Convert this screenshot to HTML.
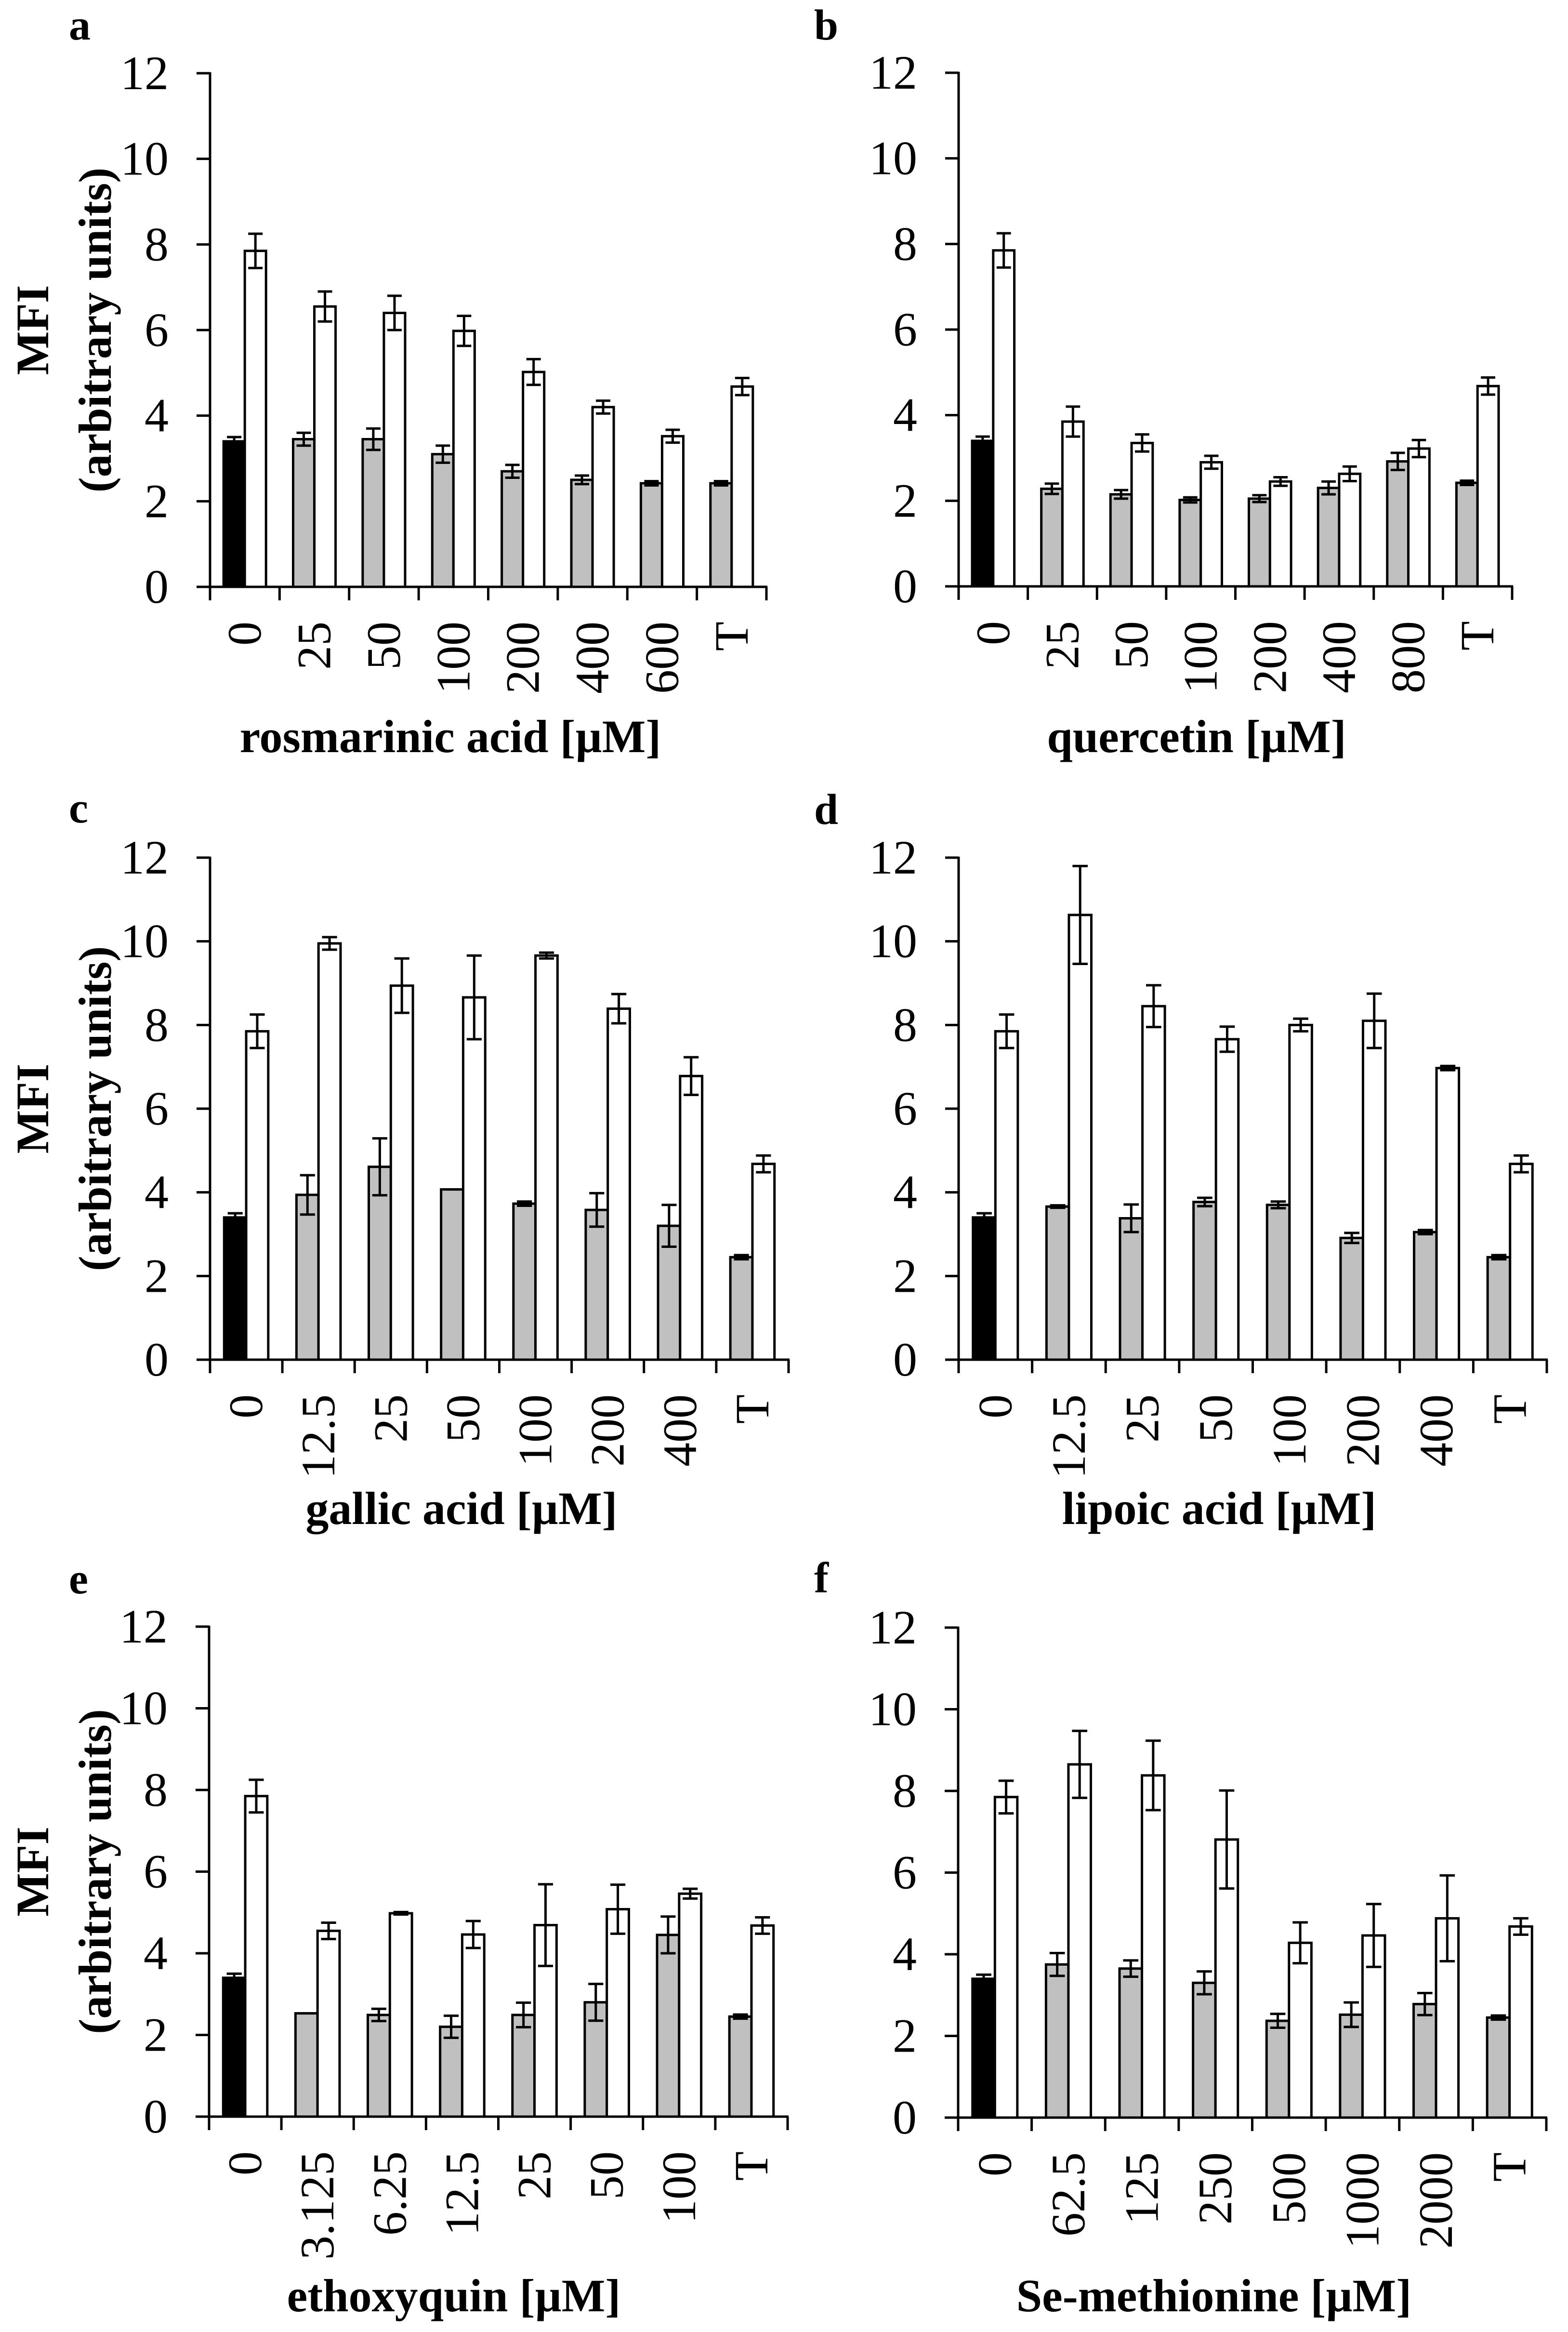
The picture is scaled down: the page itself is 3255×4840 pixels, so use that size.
<!DOCTYPE html>
<html><head><meta charset="utf-8"><style>html,body{margin:0;padding:0;background:#fff}svg{display:block}</style></head>
<body>
<svg id="fig" xmlns="http://www.w3.org/2000/svg" width="3255" height="4840" viewBox="0 0 3255 4840" font-family="Liberation Serif, serif"></svg>
<script>
// ---- data ----
const catsA = ["0","25","50","100","200","400","600","T"];
const grayA = [3.4,3.45,3.45,3.1,2.7,2.5,2.42,2.42];
const grayErrA = [0.1,0.15,0.25,0.2,0.15,0.1,0.05,0.05];
const whiteA = [7.85,6.55,6.4,5.98,5.02,4.2,3.52,4.68];
const whiteErrA = [0.4,0.35,0.4,0.35,0.3,0.15,0.15,0.2];

const catsB = ["0","25","50","100","200","400","800","T"];
const grayB = [3.4,2.28,2.15,2.02,2.05,2.3,2.92,2.42];
const grayErrB = [0.1,0.12,0.1,0.06,0.08,0.15,0.2,0.05];
const whiteB = [7.85,3.85,3.35,2.9,2.45,2.63,3.22,4.68];
const whiteErrB = [0.4,0.35,0.2,0.15,0.1,0.17,0.2,0.2];

const catsC = ["0","12.5","25","50","100","200","400","T"];
const grayC = [3.4,3.94,4.61,4.07,3.73,3.58,3.2,2.45];
const grayErrC = [0.1,0.47,0.68,0.0,0.05,0.4,0.5,0.05];
const whiteC = [7.85,9.95,8.94,8.66,9.66,8.39,6.78,4.68];
const whiteErrC = [0.4,0.15,0.65,1.0,0.07,0.35,0.45,0.2];

const catsD = ["0","12.5","25","50","100","200","400","T"];
const grayD = [3.4,3.66,3.38,3.77,3.7,2.91,3.05,2.45];
const grayErrD = [0.1,0.03,0.33,0.1,0.08,0.12,0.05,0.05];
const whiteD = [7.85,10.63,8.45,7.66,8.0,8.1,6.97,4.68];
const whiteErrD = [0.4,1.17,0.5,0.3,0.15,0.65,0.05,0.2];

const catsE = ["0","3.125","6.25","12.5","25","50","100","T"];
const grayE = [3.4,2.53,2.49,2.2,2.49,2.8,4.45,2.45];
const grayErrE = [0.1,0.0,0.15,0.27,0.3,0.45,0.45,0.05];
const whiteE = [7.85,4.55,4.98,4.46,4.69,5.08,5.46,4.68];
const whiteErrE = [0.4,0.2,0.03,0.33,1.0,0.6,0.12,0.2];

const catsF = ["0","62.5","125","250","500","1000","2000","T"];
const grayF = [3.4,3.75,3.65,3.3,2.37,2.52,2.78,2.45];
const grayErrF = [0.1,0.28,0.2,0.28,0.17,0.3,0.27,0.05];
const whiteF = [7.85,8.65,8.38,6.81,4.28,4.46,4.88,4.68];
const whiteErrF = [0.4,0.82,0.85,1.2,0.5,0.77,1.05,0.2];

const yTicks = [0,2,4,6,8,10,12];

const NS = "http://www.w3.org/2000/svg";
const svg = document.getElementById("fig");
function mk(tag, attrs, parent, txt){
  const e = document.createElementNS(NS, tag);
  for (const k in attrs) e.setAttribute(k, attrs[k]);
  if (txt !== undefined) e.textContent = txt;
  (parent||svg).appendChild(e);
  return e;
}

const panels = [
  {id:"a", cats:catsA, g:grayA, ge:grayErrA, w:whiteA, we:whiteErrA, x0:436, x1:1591, y0:1218, y12:152, title:"rosmarinic acid [\u00b5M]", tx:935, ty:1561, lx:143, ly:82, ytitle:true},
  {id:"b", cats:catsB, g:grayB, ge:grayErrB, w:whiteB, we:whiteErrB, x0:1990, x1:3139, y0:1217, y12:151, title:"quercetin [\u00b5M]", tx:2484, ty:1561, lx:1690, ly:82, ytitle:false},
  {id:"c", cats:catsC, g:grayC, ge:grayErrC, w:whiteC, we:whiteErrC, x0:436, x1:1637, y0:2822, y12:1780, title:"gallic acid [\u00b5M]", tx:958, ty:3163, lx:143, ly:1707, ytitle:true},
  {id:"d", cats:catsD, g:grayD, ge:grayErrD, w:whiteD, we:whiteErrD, x0:1990, x1:3211, y0:2822, y12:1780, title:"lipoic acid [\u00b5M]", tx:2531, ty:3163, lx:1690, ly:1710, ytitle:false},
  {id:"e", cats:catsE, g:grayE, ge:grayErrE, w:whiteE, we:whiteErrE, x0:434, x1:1635, y0:4393, y12:3376, title:"ethoxyquin [\u00b5M]", tx:942, ty:4797, lx:143, ly:3307, ytitle:true},
  {id:"f", cats:catsF, g:grayF, ge:grayErrF, w:whiteF, we:whiteErrF, x0:1989, x1:3210, y0:4395, y12:3378, title:"Se-methionine [\u00b5M]", tx:2520, ty:4797, lx:1690, ly:3305, ytitle:false}
];

panels.forEach(p => {
  const g = mk("g", {});
  
  
  const yS = v => p.y0 - v * (p.y0 - p.y12) / 12;
  const step = (p.x1 - p.x0) / p.cats.length;
  const xS = i => p.x0 + i * step;
  const bw = step * 0.305, off = step * 0.195;

  const lt = mk("text", {x:p.lx, y:p.ly, "font-size":90, "font-weight":"bold"}, g, p.id);
  
  

  p.cats.forEach((c, i) => {
    const bx = xS(i) + off;
    const gy = yS(p.g[i]);
    const r1 = mk("rect", {x:bx, y:gy, width:bw, height:p.y0 - gy, fill: i===0 ? "#000" : "#c0c0c0", stroke:"#000", "stroke-width":5}, g);
    
    
    const wy = yS(p.w[i]);
    const r2 = mk("rect", {x:bx + bw, y:wy, width:bw, height:p.y0 - wy, fill:"#fff", stroke:"#000", "stroke-width":5}, g);
    
    
    [[bx + bw/2, p.g[i], p.ge[i], 'gray'], [bx + 1.5*bw, p.w[i], p.we[i], 'white']].forEach(([cx, v, e, s]) => {
      const top = yS(v + e), bot = yS(v - e), cw = bw * 0.34;
      const eb = mk("path", {d:`M${cx},${top}V${bot}M${cx-cw},${top}H${cx+cw}M${cx-cw},${bot}H${cx+cw}`, stroke:"#000", "stroke-width":5, fill:"none"}, g);
      
      
    });
    const cl = mk("text", {x:0, y:0, "font-size":100, "text-anchor":"end", transform:`translate(${xS(i)+step/2+33},${p.y0+72}) rotate(-90)`}, g, c);
    
    
  });

  const ya = mk("line", {x1:p.x0, y1:p.y12-2, x2:p.x0, y2:p.y0+28, stroke:"#000", "stroke-width":5}, g);
  
  
  const xa = mk("line", {x1:p.x0-28, y1:p.y0, x2:p.x1+2, y2:p.y0, stroke:"#000", "stroke-width":5}, g);
  
  
  for (let i = 1; i <= p.cats.length; i++) {
    const t = mk("line", {x1:xS(i), y1:p.y0, x2:xS(i), y2:p.y0+28, stroke:"#000", "stroke-width":5}, g);
    
    
  }
  yTicks.forEach(v => {
    const y = yS(v);
    const t = mk("line", {x1:p.x0-28, y1:y, x2:p.x0, y2:y, stroke:"#000", "stroke-width":5}, g);
    
    
    const tl = mk("text", {x:p.x0-86, y:y+33, "font-size":100, "text-anchor":"end"}, g, String(v));
    
    
  });

  const xt = mk("text", {x:p.tx, y:p.ty, "font-size":96, "font-weight":"bold", "text-anchor":"middle"}, g, p.title);
  
  

  if (p.ytitle) {
    const cy = (p.y0 + p.y12) / 2;
    const t1 = mk("text", {x:0, y:0, "font-size":96, "font-weight":"bold", "text-anchor":"middle", transform:`translate(${100},${cy}) rotate(-90)`}, g, "MFI");
    
    
    const t2 = mk("text", {x:0, y:0, "font-size":96, "font-weight":"bold", "text-anchor":"middle", transform:`translate(${230},${cy}) rotate(-90)`}, g, "(arbitrary units)");
    
    
  }
});
</script>
</body></html>
